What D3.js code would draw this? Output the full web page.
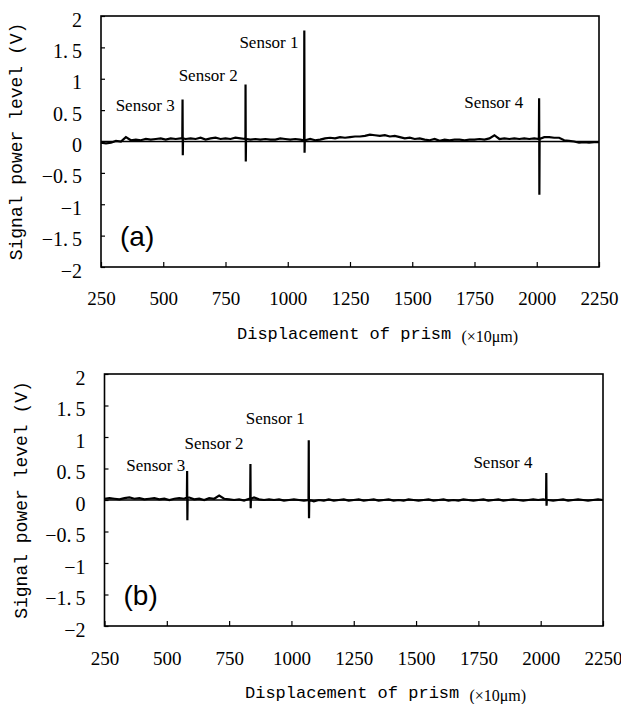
<!DOCTYPE html>
<html>
<head>
<meta charset="utf-8">
<script src="https://cdn.jsdelivr.net/npm/d3@7"></script>
<style>
  body { margin: 0; background: #fff; }
</style>
</head>
<body>
<svg id="chart" width="621" height="704"></svg>
<script>
// ---- data ----
const xTicks = [250, 500, 750, 1000, 1250, 1500, 1750, 2000, 2250];
const yTicks = [2, 1.5, 1, 0.5, 0, -0.5, -1, -1.5, -2];
const sensorNames = ["Sensor 1", "Sensor 2", "Sensor 3", "Sensor 4"];

// baseline samples every 20 units from 250 to 2250 (volts)
const baseA = [
  -0.02, -0.03, -0.02, 0.01, 0.0, 0.07, 0.02, 0.03, 0.02, 0.04,
  0.03, 0.04, 0.05, 0.03, 0.05, 0.04, 0.05, 0.04, 0.05, 0.04,
  0.06, 0.03, 0.05, 0.06, 0.04, 0.05, 0.04, 0.06, 0.05, 0.04,
  0.03, 0.04, 0.03, 0.04, 0.03, 0.03, 0.05, 0.04, 0.03, 0.04,
  0.03, 0.02, 0.04, 0.02, 0.03, 0.05, 0.06, 0.05, 0.07, 0.06,
  0.07, 0.08, 0.08, 0.09, 0.11, 0.1, 0.09, 0.1, 0.08, 0.09,
  0.07, 0.05, 0.06, 0.04, 0.05, 0.03, 0.02, 0.04, 0.01, 0.03,
  0.02, 0.03, 0.03, 0.02, 0.03, 0.03, 0.04, 0.03, 0.05, 0.1,
  0.04, 0.05, 0.04, 0.05, 0.04, 0.05, 0.04, 0.05, 0.04, 0.07,
  0.07, 0.06, 0.06, 0.02, 0.01, 0.0, -0.02, -0.01, -0.02, -0.01,
  -0.01
];
const baseB = [
  0.02, 0.03, 0.02, 0.01, 0.03, 0.04, 0.02, 0.03, 0.01, 0.02,
  0.03, 0.01, 0.02, 0.0, 0.02, 0.03, 0.02, 0.04, 0.01, 0.02,
  0.0, 0.03, 0.02, 0.07, 0.02, 0.01, 0.0, 0.01, -0.01, 0.02,
  0.04, 0.01, 0.0, 0.01, 0.0, 0.01, -0.01, 0.0, 0.01, 0.0,
  -0.01, 0.0, -0.02, 0.0, -0.01, 0.01, -0.01, 0.0, 0.01, -0.01,
  0.0, 0.01, -0.01, 0.0, 0.01, -0.01, 0.0, 0.01, -0.01, 0.0,
  -0.01, 0.01, 0.0, -0.01, 0.0, 0.01, -0.01, 0.0, 0.01, -0.01,
  0.0, -0.01, 0.01, 0.0, -0.01, 0.0, 0.01, -0.01, 0.0, 0.01,
  -0.01, 0.0, 0.01, 0.0, -0.01, 0.0, 0.01, 0.0, 0.01, 0.0,
  -0.01, 0.0, 0.01, -0.01, 0.0, 0.01, 0.0, -0.01, 0.0, 0.01,
  0.0
];

// spikes, in order Sensor 1..4
const spikeXA = [1067, 831, 578, 2010];
const spikePeakA = [1.77, 0.91, 0.67, 0.69];
const spikeTroughA = [-0.18, -0.32, -0.22, -0.85];

const spikeXB = [1070, 836, 582, 2023];
const spikePeakB = [0.95, 0.57, 0.46, 0.43];
const spikeTroughB = [-0.29, -0.13, -0.32, -0.09];

// ---- layout ----
const svg = d3.select("#chart");
svg.append("rect").attr("width", 621).attr("height", 704).attr("fill", "#fff");

const monoFont = "Liberation Mono, DejaVu Sans Mono, monospace";
const serifFont = "Liberation Serif, DejaVu Serif, serif";

const panels = [
  {
    letter: "(a)", base: baseA,
    sx: spikeXA, sp: spikePeakA, st: spikeTroughA,
    box: { left: 101, right: 599, top: 16, bottom: 267 },
    yLabelX: 16, xLabelY: 298, titleX: 237, titleY: 333,
    // label offsets: px from spike (right edge) and value for centre
    labels: [[-6, 1.59], [-8, 1.06], [-8, 0.58], [-16, 0.63]]
  },
  {
    letter: "(b)", base: baseB,
    sx: spikeXB, sp: spikePeakB, st: spikeTroughB,
    box: { left: 104.5, right: 603, top: 374, bottom: 626 },
    yLabelX: 21, xLabelY: 658, titleX: 245, titleY: 692,
    labels: [[-4, 1.30], [-7, 0.90], [-2, 0.56], [-14, 0.61]]
  }
];

const fmtY = (d) => {
  const a = Math.abs(d);
  const s = Number.isInteger(a) ? String(a) : a.toFixed(1).replace(".", ".\u2009");
  return (d < 0 ? "\u2212" : "") + s;
};

panels.forEach((p) => {
  const b = p.box;
  const x = d3.scaleLinear().domain([250, 2250]).range([b.left, b.right]);
  const y = d3.scaleLinear().domain([-2, 2]).range([b.bottom, b.top]);

  // build the trace: baseline samples with each spike inserted
  const pts = p.base.map((v, i) => [250 + 20 * i, v]);
  p.sx.forEach((sx, i) => {
    const near = p.base[Math.round((sx - 250) / 20)];
    pts.push([sx - 1.5, near]);
    pts.push([sx - 0.5, p.sp[i]]);
    pts.push([sx + 0.5, p.st[i]]);
    pts.push([sx + 1.5, near]);
  });
  pts.sort((a, c) => a[0] - c[0]);

  // zero line
  svg.append("line")
    .attr("x1", b.left).attr("x2", b.right)
    .attr("y1", y(0)).attr("y2", y(0))
    .attr("stroke", "#000").attr("stroke-width", 1.5);

  svg.append("path")
    .datum(pts)
    .attr("fill", "none")
    .attr("stroke", "#000")
    .attr("stroke-width", 2.2)
    .attr("d", d3.line().x((d) => x(d[0])).y((d) => y(d[1])));

  // x axis, ticks inward
  const gx = svg.append("g")
    .attr("transform", `translate(0,${b.bottom})`)
    .call(d3.axisBottom(x).tickValues(xTicks).tickSizeInner(-5).tickSizeOuter(0)
      .tickFormat(d3.format("d")));
  gx.attr("font-family", serifFont).attr("font-size", 19);
  gx.select(".domain").remove();
  gx.selectAll("line").attr("stroke-width", 1.2);
  gx.selectAll("text")
    .attr("y", p.xLabelY - b.bottom)
    .attr("dy", "0.35em")
    .attr("fill", "#000");

  // y axis, ticks inward
  const gy = svg.append("g")
    .attr("transform", `translate(${b.left},0)`)
    .call(d3.axisLeft(y).tickValues(yTicks).tickSizeInner(-4).tickSizeOuter(0)
      .tickFormat(fmtY));
  gy.attr("font-family", serifFont).attr("font-size", 20);
  gy.select(".domain").remove();
  gy.selectAll("line").attr("stroke-width", 1.2);
  gy.selectAll("text")
    .attr("x", -19)
    .attr("dy", "0.5em")
    .attr("fill", "#000");

  // frame
  svg.append("rect")
    .attr("x", b.left).attr("y", b.top)
    .attr("width", b.right - b.left).attr("height", b.bottom - b.top)
    .attr("fill", "none").attr("stroke", "#000").attr("stroke-width", 1.6);

  // sensor labels
  p.labels.forEach((l, i) => {
    svg.append("text")
      .attr("x", x(p.sx[i]) + l[0])
      .attr("y", y(l[1]))
      .attr("dy", "0.35em")
      .attr("text-anchor", "end")
      .attr("font-family", serifFont)
      .attr("font-size", 17)
      .text(sensorNames[i]);
  });

  // panel letter
  svg.append("text")
    .attr("x", b.left + 19)
    .attr("y", y(-1.5) + 10)
    .attr("font-family", "Liberation Sans, Arial, sans-serif")
    .attr("font-size", 28)
    .text(p.letter);

  // y axis title
  svg.append("text")
    .attr("transform", `translate(${p.yLabelX},${(b.top + b.bottom) / 2}) rotate(-90)`)
    .attr("text-anchor", "middle")
    .attr("dy", "0.35em")
    .attr("font-family", monoFont)
    .attr("font-size", 18)
    .text("Signal power level (V)");

  // x axis title, starting at its left edge
  const t = svg.append("text")
    .attr("x", p.titleX)
    .attr("y", p.titleY)
    .attr("dy", "0.35em")
    .attr("font-family", monoFont)
    .attr("font-size", 17);
  t.append("tspan").text("Displacement of prism ");
  t.append("tspan").attr("font-family", serifFont).attr("font-size", 16)
    .attr("dy", "0.2em").text("(\u00d710\u03bcm)");
});
</script>
</body>
</html>
